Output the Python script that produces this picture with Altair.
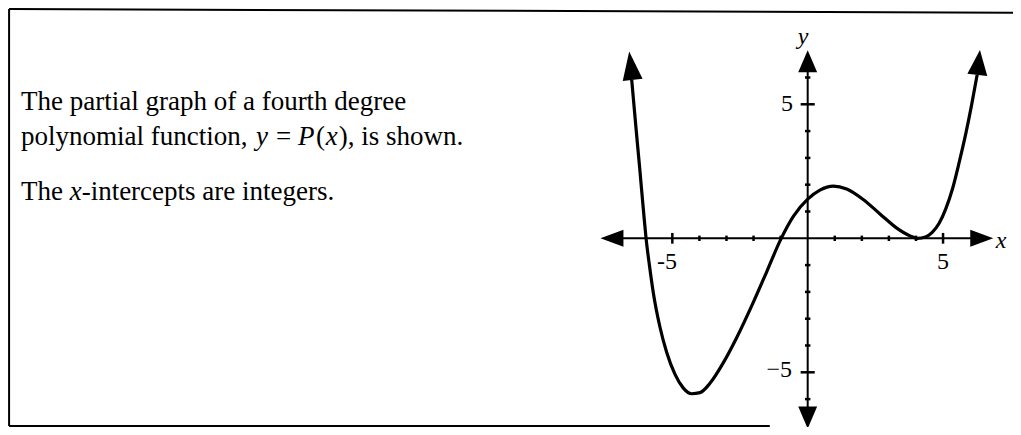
import altair as alt
import pandas as pd

# ---- values ----
curve_x = [-6.50, -6.35, -6.20, -6.05, -5.97, -5.85, -5.70, -5.46, -5.21, -4.90,
           -4.60, -4.29, -3.98, -3.61, -3.12, -2.62, -2.01, -1.51, -1.00, -0.53,
           0.00, 0.45, 0.95, 1.44, 2.05, 2.67, 3.29, 3.78, 4.05, 4.35, 4.60,
           4.85, 5.10, 5.35, 5.60, 5.85, 6.05, 6.26]
curve_y = [5.91, 4.20, 2.55, 0.85, 0.00, -0.98, -2.05, -3.30, -4.25, -5.08,
           -5.58, -5.80, -5.76, -5.41, -4.65, -3.70, -2.39, -1.24, -0.05, 0.82,
           1.46, 1.80, 1.95, 1.84, 1.45, 0.91, 0.38, 0.09, 0.00, 0.05, 0.22,
           0.55, 1.10, 1.85, 2.85, 3.95, 4.95, 6.10]

x_ticks = [-5, -4, -3, -2, -1, 1, 2, 3, 4, 5]
y_ticks = [-6, -5, -4, -3, -2, -1, 1, 2, 3, 4, 5, 6]
x_tick_labels = ["-5", "5"]
y_tick_labels = ["5", "\u22125"]

body_normal = ["The partial graph of a fourth degree", "polynomial function,", "=",
               "(", "), is shown.", "The", "-intercepts are integers."]
body_italic = ["y", "P", "x", "x"]

# ---- frame of the plotting space (data units) ----
XMIN, XMAX = -29.54, 7.584
YMIN, YMAX = -7.041, 8.593
W, H = 1005, 419

xs = alt.Scale(domain=[XMIN, XMAX], nice=False, zero=False)
ys = alt.Scale(domain=[YMIN, YMAX], nice=False, zero=False)
X = lambda f="x": alt.X(f"{f}:Q", scale=xs, axis=None)
Y = lambda f="y": alt.Y(f"{f}:Q", scale=ys, axis=None)

curve_df = pd.DataFrame({"x": curve_x, "y": curve_y})

# axis lines
axes_df = pd.DataFrame({"x": [-6.9, 0.0], "y": [0.0, -6.3],
                        "x2": [6.1, 0.0], "y2": [0.0, 6.3]})

# tick marks
xt_df = pd.DataFrame({"x": x_ticks,
                      "y": [-0.2 if abs(t) == 5 else -0.1 for t in x_ticks],
                      "y2": [0.2 if abs(t) == 5 else 0.1 for t in x_ticks]})
yt_df = pd.DataFrame({"y": y_ticks,
                      "x": [-0.26 if abs(t) == 5 else -0.1 for t in y_ticks],
                      "x2": [0.26 if abs(t) == 5 else 0.1 for t in y_ticks]})

# arrow heads
def tri(w):
    return f"M0,-1L{w},1L-{w},1Z"

arrows_df = pd.DataFrame({
    "x": [-6.53, 6.315, 0.0, 0.0, -7.23, 6.43],
    "y": [6.44, 6.56, 6.61, -6.69, 0.0, 0.0],
    "angle": [353, 6, 0, 180, 270, 90],
    "size": [812, 625, 484, 484, 529, 529],
    "shape": [tri(0.70), tri(0.80), tri(0.86), tri(0.86), tri(0.74), tri(0.74)],
})

# frame lines
frame_df = pd.DataFrame({"x": [-29.50, -29.50, -29.50], "y": [8.556, 8.556, -7.0],
                         "x2": [XMAX, -29.50, -1.40], "y2": [8.42, -7.0, -7.0]})

# text
L1, L2, L3 = 4.80, 3.48, 1.43
bn_df = pd.DataFrame({"text": body_normal,
                      "x": [-29.06, -29.06, -19.64, -18.16, -17.32, -29.06, -26.82],
                      "y": [L1, L2, L2, L2, L2, L3, L3]})
bi_df = pd.DataFrame({"text": body_italic,
                      "x": [-20.38, -18.83, -17.80, -27.26],
                      "y": [L2, L2, L2, L3]})
xl_df = pd.DataFrame({"text": x_tick_labels, "x": [-5.2, 5.0], "y": [-0.9, -0.9]})
yl_df = pd.DataFrame({"text": y_tick_labels, "x": [-0.54, -0.58], "y": [5.0, -4.91]})
al_df = pd.DataFrame({"text": ["y", "x"], "x": [-0.17, 7.14], "y": [7.51, -0.1]})

FONT = "Liberation Serif"

curve = alt.Chart(curve_df).mark_line(interpolate="monotone", color="black",
                                      strokeWidth=3.2).encode(x=X(), y=Y())
axes = alt.Chart(axes_df).mark_rule(color="black", strokeWidth=2).encode(
    x=X(), y=Y(), x2="x2:Q", y2="y2:Q")
xt = alt.Chart(xt_df).mark_rule(color="black", strokeWidth=2.5).encode(
    x=X(), y=Y(), y2="y2:Q")
yt = alt.Chart(yt_df).mark_rule(color="black", strokeWidth=2.5).encode(
    x=X(), x2="x2:Q", y=Y())
arrows = alt.Chart(arrows_df).mark_point(filled=True, color="black", opacity=1,
                                         strokeWidth=0).encode(
    x=X(), y=Y(),
    angle=alt.Angle("angle:Q", scale=None),
    size=alt.Size("size:Q", scale=None),
    shape=alt.Shape("shape:N", scale=None))
frame = alt.Chart(frame_df).mark_rule(color="black", strokeWidth=2).encode(
    x=X(), y=Y(), x2="x2:Q", y2="y2:Q")

bn = alt.Chart(bn_df).mark_text(font=FONT, fontSize=27, align="left",
                                baseline="alphabetic", color="black").encode(
    x=X(), y=Y(), text="text:N")
bi = alt.Chart(bi_df).mark_text(font=FONT, fontSize=27, align="left", fontStyle="italic",
                                baseline="alphabetic", color="black").encode(
    x=X(), y=Y(), text="text:N")
xl = alt.Chart(xl_df).mark_text(font=FONT, fontSize=24, align="center",
                                baseline="middle", color="black").encode(
    x=X(), y=Y(), text="text:N")
yl = alt.Chart(yl_df).mark_text(font=FONT, fontSize=24, align="right",
                                baseline="middle", color="black").encode(
    x=X(), y=Y(), text="text:N")
al = alt.Chart(al_df).mark_text(font=FONT, fontSize=24, align="center", fontStyle="italic",
                                baseline="middle", color="black").encode(
    x=X(), y=Y(), text="text:N")

chart = alt.layer(frame, axes, xt, yt, curve, arrows, bn, bi, xl, yl, al).properties(
    width=W, height=H, padding=0,
    autosize=alt.AutoSizeParams(type="none"),
    background="white",
).configure_view(stroke=None)

chart.save("out.html", embed_options={"renderer": "svg", "actions": False})
